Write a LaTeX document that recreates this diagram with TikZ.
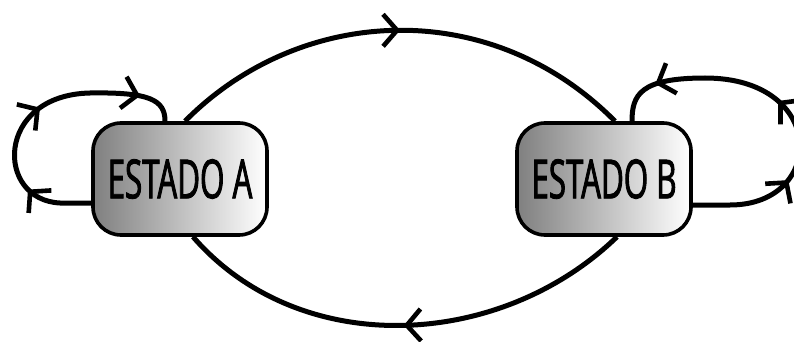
\documentclass[tikz,border=0pt]{standalone}
\usepackage{fontspec}
\usetikzlibrary{arrows.meta,decorations.markings}
\newfontfamily\statefont[FakeStretch=0.58,FakeBold=1.6]{Open Sans}
\tikzset{
  state/.style={draw=black, line width=3.6pt, rounded corners=28pt,
    minimum width=174pt, minimum height=112pt, inner sep=0pt,
    left color=black!50, middle color=black!8, right color=white,
    font=\statefont\fontsize{54}{54}\selectfont},
  flow/.style={line width=5pt, postaction={decorate}},
  >={Straight Barb[length=14pt,width=32pt,line width=4.6pt]},
}
\begin{document}
\begin{tikzpicture}[x=1pt,y=-1pt]
  \useasboundingbox (0,0) rectangle (794,342);

  \node[state] (A) at (180,179) {ESTADO A};
  \node[state] (B) at (604,179) {ESTADO B};

  % A -> B across the top
  \draw[flow, decoration={markings, mark=at position 0.5 with {\arrow{>}}}]
    ([xshift=5pt]A.north) .. controls (300,5) and (490,-5) .. ([xshift=11pt]B.north);

  % B -> A across the bottom
  \draw[flow, decoration={markings, mark=at position 0.5 with {\arrow{>}}}]
    ([xshift=13pt]B.south) .. controls (500,350) and (300,360) .. ([xshift=13pt]A.south);

  % self-loop on A
  \draw[flow, decoration={markings,
      mark=at position 0.22 with {\arrow{>}},
      mark=at position 0.53 with {\arrow{>}},
      mark=at position 0.87 with {\arrow{>}}}]
    ([yshift=-24pt]A.west) -- (60,203)
      .. controls (-5,200) and (-5,95) .. (90,93)
      .. controls (150,92) and (165,100) .. ([xshift=-15pt]A.north);

  % self-loop on B
  \draw[flow, decoration={markings,
      mark=at position 0.28 with {\arrow{>}},
      mark=at position 0.52 with {\arrow{>}},
      mark=at position 0.87 with {\arrow{>}}}]
    ([yshift=-26pt]B.east) -- (730,205)
      .. controls (826,205) and (828,78) .. (705,78)
      .. controls (640,78) and (632,95) .. ([xshift=28pt]B.north);
\end{tikzpicture}
\end{document}
